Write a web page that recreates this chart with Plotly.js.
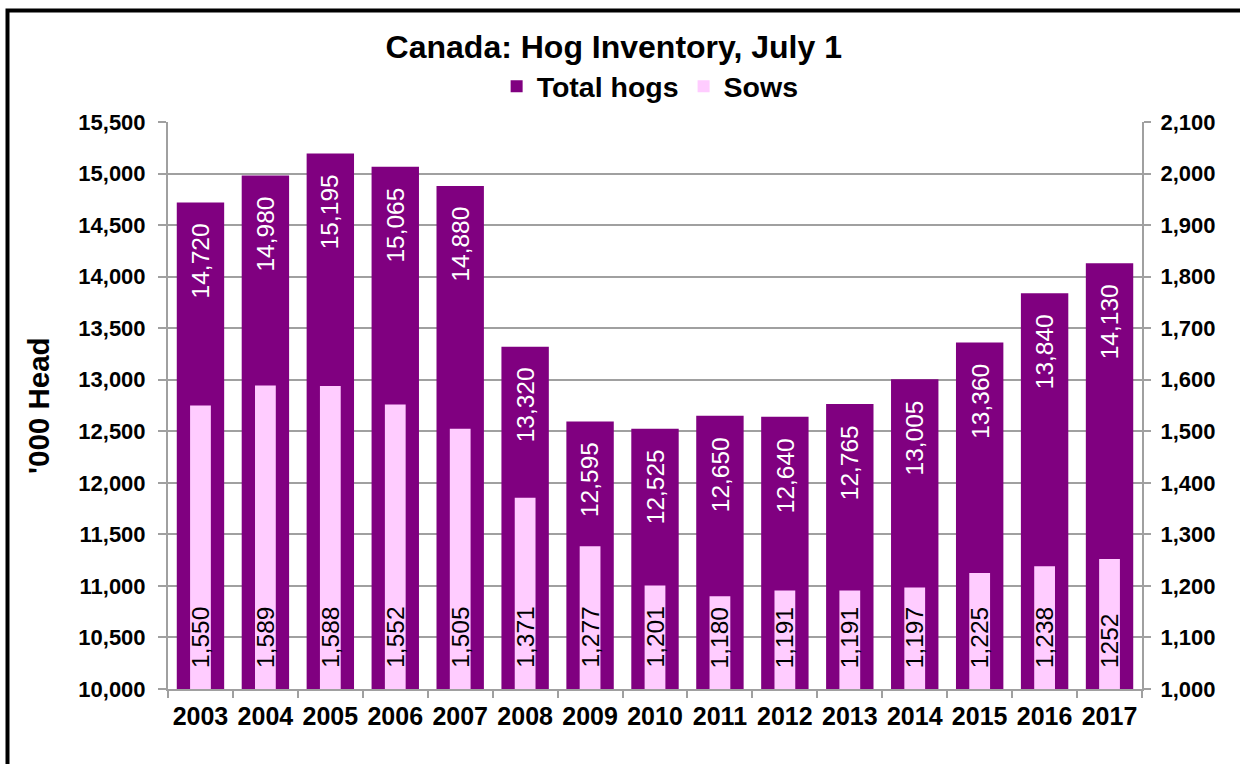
<!DOCTYPE html>
<html>
<head>
<meta charset="utf-8">
<script src="https://cdn.plot.ly/plotly-3.0.1.min.js"></script>
<style>
  html, body { margin: 0; padding: 0; background: #ffffff; }
  #chart { width: 1240px; height: 764px; }
</style>
</head>
<body>
<div id="chart"></div>
<script>
// ---- Data ----
const years = ['2003','2004','2005','2006','2007','2008','2009','2010','2011','2012','2013','2014','2015','2016','2017'];
const totalHogs = [14720, 14980, 15195, 15065, 14880, 13320, 12595, 12525, 12650, 12640, 12765, 13005, 13360, 13840, 14130];
const sows = [1550, 1589, 1588, 1552, 1505, 1371, 1277, 1201, 1180, 1191, 1191, 1197, 1225, 1238, 1252];
const sowLabels = ['1,550','1,589','1,588','1,552','1,505','1,371','1,277','1,201','1,180','1,191','1,191','1,197','1,225','1,238','1252'];
const leftTicks = [10000, 10500, 11000, 11500, 12000, 12500, 13000, 13500, 14000, 14500, 15000, 15500];
const rightTicks = [1000, 1100, 1200, 1300, 1400, 1500, 1600, 1700, 1800, 1900, 2000, 2100];

const FONT = '"Liberation Sans", Arial, sans-serif';
const PURPLE = '#800080';
const PINK = '#FFCCFF';
const GRID = '#A0A0A0';

const fmt = v => v.toLocaleString('en-US');

const traceTotal = {
  type: 'bar', name: 'Total hogs', x: years, y: totalHogs,
  xaxis: 'x', yaxis: 'y', width: 0.73,
  marker: { color: PURPLE, line: { width: 0 } },
  hoverinfo: 'x+y'
};
const traceSows = {
  type: 'bar', name: 'Sows', x: years, y: sows,
  xaxis: 'x', yaxis: 'y2', width: 0.32,
  marker: { color: PINK, line: { width: 0 } },
  hoverinfo: 'x+y'
};

const annotations = [];
years.forEach((yr, i) => {
  annotations.push({
    x: i, y: totalHogs[i], xref: 'x', yref: 'y',
    text: fmt(totalHogs[i]), showarrow: false, textangle: -90,
    xanchor: 'center', yanchor: 'top', yshift: -19,
    font: { family: FONT, size: 24.5, color: '#ffffff' }
  });
  annotations.push({
    x: i, y: rightTicks[0], xref: 'x', yref: 'y2',
    text: sowLabels[i], showarrow: false, textangle: -90,
    xanchor: 'center', yanchor: 'bottom', yshift: 19,
    font: { family: FONT, size: 24.5, color: '#000000' }
  });
});
annotations.push({
  x: -0.133, y: 0.5, xref: 'paper', yref: 'paper',
  text: "'000 Head", showarrow: false, textangle: -90,
  xanchor: 'center', yanchor: 'middle',
  font: { family: FONT, size: 29.5, color: '#000000', weight: 'bold' }
});

const layout = {
  width: 1240, height: 764,
  margin: { l: 168, r: 98, t: 122, b: 75, pad: 0 },
  paper_bgcolor: '#ffffff', plot_bgcolor: '#ffffff',
  font: { family: FONT, color: '#000000' },
  title: {
    text: 'Canada: Hog Inventory, July 1',
    x: 0.495, xref: 'container', xanchor: 'center',
    y: 1 - 47 / 764, yref: 'container', yanchor: 'middle',
    font: { family: FONT, size: 32, color: '#000000', weight: 'bold' }
  },
  showlegend: true,
  legend: {
    orientation: 'h', x: 0.495, xanchor: 'center', y: 1.062, yanchor: 'middle',
    font: { family: FONT, size: 28.5, color: '#000000', weight: 'bold' },
    bgcolor: 'rgba(0,0,0,0)', itemwidth: 30, traceorder: 'normal'
  },
  barmode: 'overlay',
  xaxis: {
    type: 'category', categoryorder: 'array', categoryarray: years,
    range: [-0.5, years.length - 0.5], autorange: false,
    showgrid: false, showline: true, linecolor: GRID, linewidth: 2,
    ticks: 'outside', tickson: 'boundaries', ticklen: 7, tickcolor: GRID, tickwidth: 2,
    tickfont: { family: FONT, size: 25, color: '#000000', weight: 'bold' },
    tickangle: 0, ticklabelstandoff: 4,
    zeroline: false, fixedrange: true
  },
  yaxis: {
    range: [10000, 15500], autorange: false, tickvals: leftTicks, tickformat: ',d',
    showgrid: true, gridcolor: GRID, gridwidth: 2,
    showline: true, linecolor: GRID, linewidth: 2,
    ticks: 'outside', ticklen: 8, tickcolor: GRID, tickwidth: 2,
    tickfont: { family: FONT, size: 22, color: '#000000', weight: 'bold' },
    ticklabelstandoff: 8,
    zeroline: false, fixedrange: true
  },
  yaxis2: {
    overlaying: 'y', side: 'right',
    range: [1000, 2100], autorange: false, tickvals: rightTicks, tickformat: ',d',
    showgrid: false, showline: true, linecolor: GRID, linewidth: 2,
    ticks: 'outside', ticklen: 7, tickcolor: GRID, tickwidth: 2,
    tickfont: { family: FONT, size: 22, color: '#000000', weight: 'bold' },
    ticklabelstandoff: 5,
    zeroline: false, fixedrange: true
  },
  annotations: annotations,
  shapes: [{
    type: 'rect', xref: 'paper', yref: 'paper',
    x0: (7.5 - 168) / 974, x1: (1260 - 168) / 974,
    y0: (689 - 790) / 567, y1: 1 + (122 - 10.5) / 567,
    line: { color: '#000000', width: 4 }, fillcolor: 'rgba(0,0,0,0)', layer: 'above'
  }]
};

Plotly.newPlot('chart', [traceTotal, traceSows], layout, { displayModeBar: false, staticPlot: true });
</script>
</body>
</html>
